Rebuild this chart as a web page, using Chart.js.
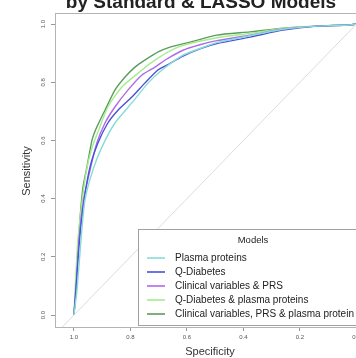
<!DOCTYPE html>
<html>
<head>
<meta charset="utf-8">
<script src="https://cdn.jsdelivr.net/npm/chart.js@4.4.1/dist/chart.umd.min.js"></script>
<style>
  html, body { margin: 0; padding: 0; background: #fff; overflow: hidden; }
  #box { width: 370px; height: 358px; position: relative; }
</style>
</head>
<body>
<div id="box"><canvas id="grafico"></canvas></div>
<script>
const titulo = "by Standard & LASSO Models";
const tickVals = [0, 0.2, 0.4, 0.6, 0.8, 1.0];

const modelos = [
  "Plasma proteins",
  "Q-Diabetes",
  "Clinical variables & PRS",
  "Q-Diabetes & plasma proteins",
  "Clinical variables, PRS & plasma protein"
];

const cores = ["#86dcd6", "#4b50dc", "#b06ae6", "#a3ee8e", "#5c9c5c"];

// specificity / sensitivity
const specPlasma = [1.0, 0.989, 0.975, 0.961, 0.933, 0.901, 0.855, 0.795, 0.738, 0.688, 0.614, 0.554, 0.494, 0.377, 0.260, 0.140, 0.023, 0.0];
const sensPlasma = [0.0, 0.086, 0.258, 0.395, 0.498, 0.577, 0.660, 0.729, 0.797, 0.842, 0.893, 0.916, 0.936, 0.960, 0.982, 0.993, 0.997, 1.0];

const specQD = [1.0, 0.993, 0.980, 0.964, 0.943, 0.915, 0.880, 0.844, 0.795, 0.749, 0.703, 0.671, 0.614, 0.554, 0.494, 0.377, 0.260, 0.140, 0.023, 0.0];
const sensQD = [0.0, 0.086, 0.258, 0.395, 0.509, 0.591, 0.660, 0.704, 0.749, 0.797, 0.842, 0.859, 0.890, 0.915, 0.933, 0.955, 0.979, 0.993, 0.997, 1.0];

const specClin = [1.0, 0.993, 0.982, 0.966, 0.943, 0.919, 0.890, 0.855, 0.809, 0.759, 0.713, 0.671, 0.614, 0.554, 0.494, 0.377, 0.260, 0.140, 0.023, 0.0];
const sensClin = [0.0, 0.086, 0.258, 0.395, 0.498, 0.591, 0.660, 0.715, 0.773, 0.825, 0.852, 0.880, 0.910, 0.929, 0.943, 0.962, 0.983, 0.993, 0.997, 1.0];

const specQDProt = [1.0, 0.996, 0.986, 0.970, 0.955, 0.936, 0.915, 0.880, 0.830, 0.759, 0.731, 0.671, 0.614, 0.494, 0.377, 0.260, 0.140, 0.023, 0.0];
const sensQDProt = [0.0, 0.086, 0.258, 0.400, 0.500, 0.575, 0.629, 0.715, 0.784, 0.842, 0.864, 0.902, 0.927, 0.953, 0.968, 0.985, 0.993, 0.997, 1.0];

const specTudo = [1.0, 0.996, 0.990, 0.986, 0.979, 0.968, 0.954, 0.936, 0.919, 0.890, 0.855, 0.819, 0.784, 0.749, 0.700, 0.660, 0.589, 0.494, 0.377, 0.260, 0.140, 0.023, 0.0];
const sensTudo = [0.0, 0.05, 0.15, 0.223, 0.326, 0.440, 0.509, 0.601, 0.646, 0.704, 0.773, 0.818, 0.852, 0.876, 0.905, 0.921, 0.938, 0.962, 0.973, 0.986, 0.993, 0.997, 1.0];

const series = [
  [specPlasma, sensPlasma],
  [specQD, sensQD],
  [specClin, sensClin],
  [specQDProt, sensQDProt],
  [specTudo, sensTudo]
];

function pares(xs, ys) {
  return xs.map((x, i) => ({ x: x, y: ys[i] }));
}

const datasets = series.map((s, i) => ({
  label: modelos[i],
  data: pares(s[0], s[1]),
  borderColor: cores[i],
  borderWidth: 1.4,
  pointRadius: 0,
  showLine: true,
  fill: false,
  tension: 0.2,
  clip: 0
}));

// diagonal reference line
datasets.unshift({
  label: "ref",
  data: [{ x: 1.2, y: -0.2 }, { x: -0.2, y: 1.2 }],
  borderColor: "#dcdcdc",
  borderWidth: 1,
  pointRadius: 0,
  showLine: true,
  clip: 0
});

const extras = {
  id: "extras",
  afterDraw(chart) {
    const ctx = chart.ctx;
    const a = chart.chartArea;
    const sy = chart.scales.y;
    ctx.save();

    // box
    ctx.strokeStyle = "#b4b4b4";
    ctx.lineWidth = 1;
    ctx.strokeRect(a.left + 0.5, a.top + 0.5, a.right - a.left - 1, a.bottom - a.top);

    // y tick labels, vertical
    ctx.fillStyle = "#555";
    ctx.font = "6px Arial";
    ctx.textAlign = "center";
    ctx.textBaseline = "middle";
    tickVals.forEach(v => {
      const y = sy.getPixelForValue(v);
      ctx.save();
      ctx.translate(43, y);
      ctx.rotate(-Math.PI / 2);
      ctx.fillText(v.toFixed(1), 0, 0);
      ctx.restore();
    });

    // axis titles
    ctx.fillStyle = "#333";
    ctx.font = "11px Arial";
    ctx.save();
    ctx.translate(27, 171);
    ctx.rotate(-Math.PI / 2);
    ctx.fillText("Sensitivity", 0, 0);
    ctx.restore();
    ctx.fillText("Specificity", 210, 352);

    // title, cut at the top
    ctx.fillStyle = "#222";
    ctx.font = "bold 19px Arial";
    ctx.textBaseline = "alphabetic";
    ctx.fillText(titulo, 201, 8);

    // legend
    const lx = 138, ly = 229;
    ctx.fillStyle = "#fff";
    ctx.fillRect(lx, ly, 240, 96);
    ctx.strokeStyle = "#a0a0a0";
    ctx.strokeRect(lx + 0.5, ly + 0.5, 240, 96);
    ctx.fillStyle = "#222";
    ctx.font = "9.5px Arial";
    ctx.textAlign = "center";
    ctx.textBaseline = "middle";
    ctx.fillText("Models", 253, 240);
    ctx.textAlign = "left";
    ctx.font = "10px Arial";
    modelos.forEach((m, i) => {
      const y = 258 + i * 14;
      ctx.strokeStyle = cores[i];
      ctx.lineWidth = 1.6;
      ctx.beginPath();
      ctx.moveTo(147, y);
      ctx.lineTo(165, y);
      ctx.stroke();
      ctx.fillStyle = "#222";
      ctx.fillText(m, 175, y);
    });
    ctx.restore();
  }
};

new Chart(document.getElementById("grafico"), {
  type: "scatter",
  data: { datasets: datasets },
  plugins: [extras],
  options: {
    responsive: true,
    maintainAspectRatio: false,
    animation: false,
    layout: { padding: { top: 13, left: 0, right: 0, bottom: 0 } },
    plugins: {
      legend: { display: false },
      tooltip: { enabled: false }
    },
    scales: {
      x: {
        type: "linear",
        reverse: true,
        min: -0.048,
        max: 1.067,
        afterBuildTicks: s => { s.ticks = tickVals.map(v => ({ value: v })); },
        afterFit: s => { s.height = 31; },
        border: { display: false },
        grid: { drawOnChartArea: false, drawTicks: true, tickLength: 4, color: "#999" },
        ticks: {
          color: "#555",
          font: { size: 6, family: "Arial" },
          padding: 3,
          maxRotation: 0,
          callback: v => v.toFixed(1)
        }
      },
      y: {
        type: "linear",
        min: -0.041,
        max: 1.038,
        afterBuildTicks: s => { s.ticks = tickVals.map(v => ({ value: v })); },
        afterFit: s => { s.width = 55; },
        border: { display: false },
        grid: { drawOnChartArea: false, drawTicks: true, tickLength: 4, color: "#999" },
        ticks: { color: "rgba(0,0,0,0)", font: { size: 6 }, callback: v => v.toFixed(1) }
      }
    }
  }
});
</script>
</body>
</html>
